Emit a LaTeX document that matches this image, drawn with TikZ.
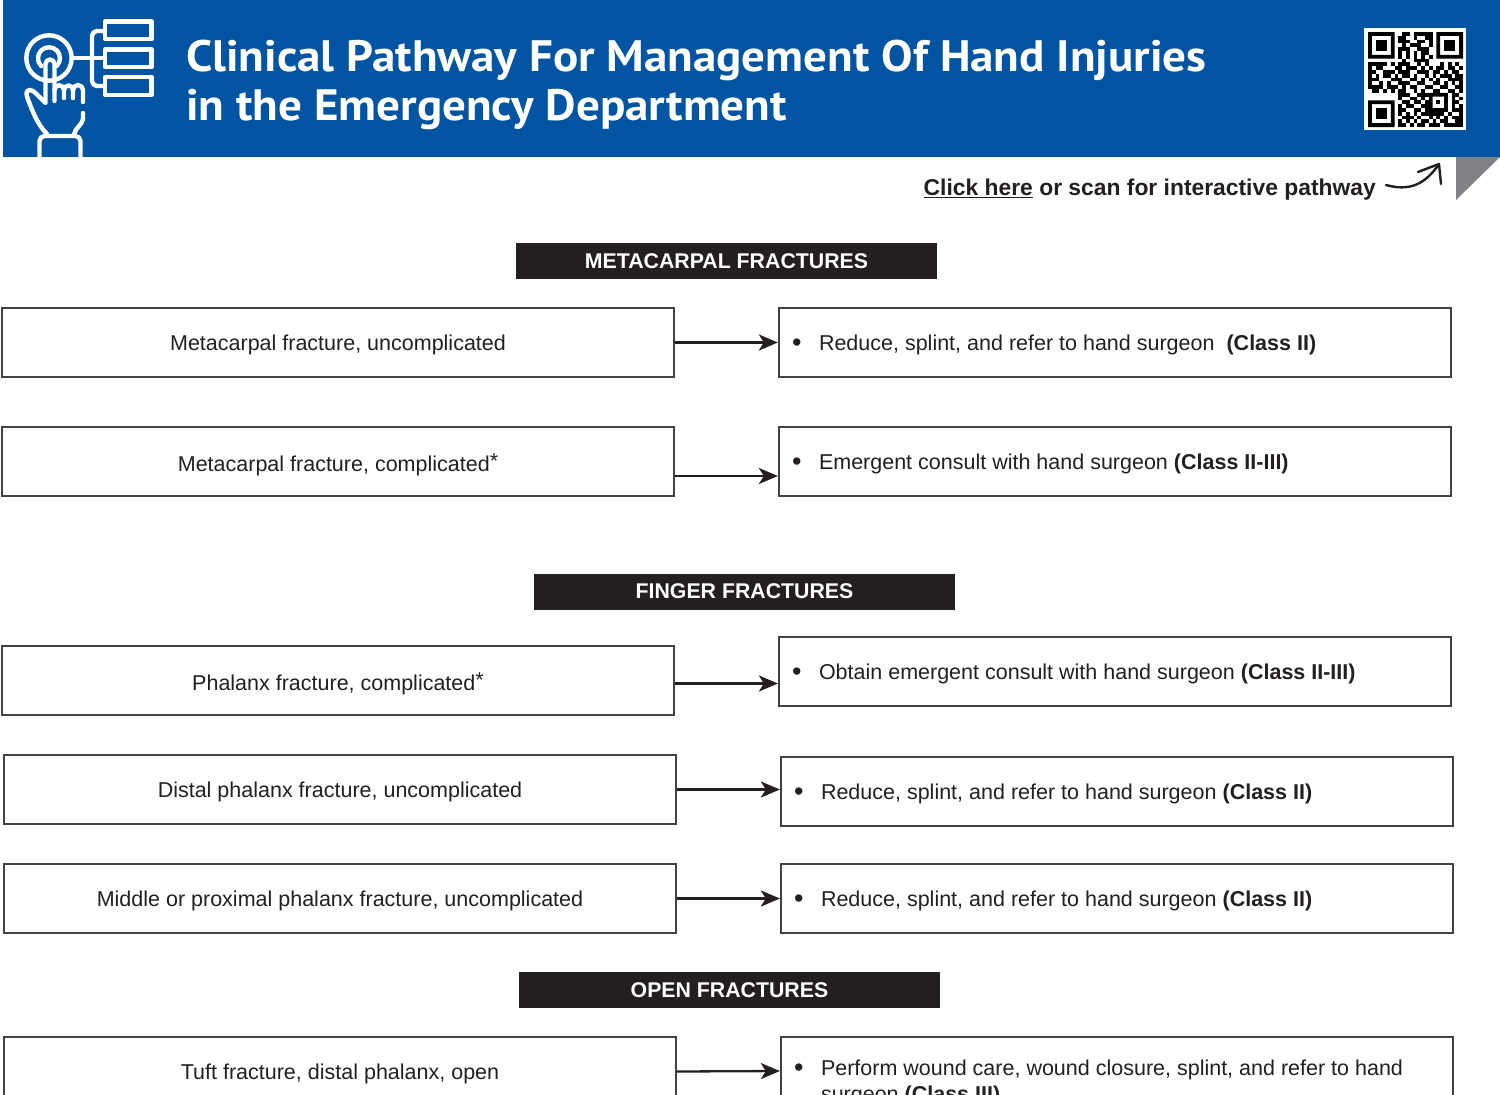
\documentclass[tikz,border=0pt]{standalone}
\usepackage{fontspec}
\setmainfont{Liberation Sans}
\newfontfamily\titlefont[FakeStretch=1.069]{PT Sans}
\usetikzlibrary{arrows.meta}
\definecolor{headblue}{RGB}{0,84,162}
\definecolor{inkblack}{RGB}{35,31,32}
\definecolor{foldgray}{RGB}{128,130,133}
\tikzset{
  leftbox/.style={draw=inkblack!85,line width=1.3pt,minimum width=672pt,minimum height=69pt,inner sep=0pt,text=inkblack,text height=16pt,text depth=0pt,font=\fontsize{21.5}{26}\selectfont},
  rightbox/.style={leftbox,align=flush left,text width=646pt,inner xsep=13pt},
  headbox/.style={fill=inkblack,minimum width=421pt,minimum height=36pt,inner sep=0pt,text=white,font=\bfseries\fontsize{21.3}{26}\selectfont},
  conn/.style={draw=inkblack,line width=2.3pt,-{Stealth[length=19pt,width=16pt,inset=5pt]},shorten >=0.5pt},
  iconline/.style={draw=white,line width=4.4pt,line cap=round,line join=round}
}
\newcommand{\bul}{\hangindent=27pt\hangafter=1\makebox[27pt][l]{\raisebox{-1.2pt}{\fontsize{27}{26}\selectfont\textbullet}}}
\newcommand{\stu}{\raisebox{3pt}{*}}
\begin{document}
\begin{tikzpicture}[x=1pt,y=-1pt]
\useasboundingbox (0,0) rectangle (1500,1095);
\clip (0,0) rectangle (1500,1095);
% banner
\fill [headblue] (3,0) rectangle (1500,156.5);
\fill [foldgray] (1456,157) -- (1500,157) -- (1456,200) -- cycle;
\node [anchor=west,text=white,align=flush left,inner sep=0pt,font=\titlefont\bfseries\fontsize{44}{49}\selectfont] (title) at (186,84.5) {Clinical Pathway For Management Of Hand Injuries\\in the Emergency Department};

% icon
\draw [iconline] (49,58) circle (22.7);
\draw [iconline] (41.2,66) arc (135:405:11);
\draw [iconline] (30,90) .. controls (34,90) and (38,96) .. (45.5,103) -- (45.5,64) arc (180:360:4.5) -- (54.5,101);
\draw [iconline] (30,90) .. controls (26,90) and (26,94) .. (27.5,98) .. controls (32,110) and (37,124) .. (47,134);
\draw [iconline] (54.5,90) arc (180:360:4.75) -- (64,98);
\draw [iconline] (64,90) arc (180:360:4.5) -- (73,98);
\draw [iconline] (73,90) arc (180:360:5) -- (83,102);
\draw [iconline] (83,113) -- (83,119) .. controls (82,125) and (76,127) .. (74,134);
\draw [iconline] (39.5,160) -- (39.5,141) arc (180:270:5) -- (75.5,136) arc (270:360:5) -- (80.5,160);
\draw [iconline,line cap=butt] (105.2,21.3) rectangle (151.5,39);
\draw [iconline,line cap=butt] (105.2,49.3) rectangle (151.5,67);
\draw [iconline,line cap=butt] (105.2,77) rectangle (151.5,94.7);
\draw [iconline,line cap=butt] (104,31) -- (97,31) arc (270:180:5) -- (92,81) arc (180:90:5) -- (104,86);
\draw [iconline,line cap=butt] (74,58) -- (104,58);

% qr code
\fill [white] (1364,28) rectangle (1466,130);
\begin{scope}[shift={(1368,32)},x=3.8pt,y=-3.8pt]
\foreach \qx/\qy in {0/0,18/0,0/18}{
  \fill [black,even odd rule] (\qx,\qy) rectangle +(7,7) (\qx+1,\qy+1) rectangle +(5,5);
  \fill [black] (\qx+2,\qy+2) rectangle +(3,3);
}
\fill [black,even odd rule] (16,16) rectangle +(5,5) (17,17) rectangle +(3,3);
\fill [black] (18,18) rectangle +(1,1);
\foreach \qr/\qcols in {
  0/{9,10,12,13,14,15,16},
  1/{8,9,12,15,16},
  2/{8,9,10,13,14,16},
  3/{9,11,12,13,16},
  4/{8,9,10,13,14,15},
  5/{8,10,12,14,15},
  6/{8,10,12,14,16},
  7/{9,12,13,14,15},
  8/{0,1,2,3,4,6,8,9,10,13,15,19,21,23},
  9/{0,2,3,7,8,10,11,12,14,16,18,19,21,22,24},
  10/{0,1,4,5,6,8,9,10,13,14,15,17,18,20,22,23},
  11/{0,2,4,5,7,9,10,12,15,17,19,20,21,23,24},
  12/{0,1,2,6,7,8,11,12,14,16,18,21,22,23,24},
  13/{0,3,5,8,9,10,13,14,17,18,20,22,24},
  14/{0,1,2,3,5,6,7,9,11,12,15,16,19,20,23,24},
  15/{1,2,4,6,8,9,12,14,17,18,21,22,24},
  16/{8,9,10,13,14,15,22,23},
  17/{8,11,12,14,22,24},
  18/{9,10,12,13,15,22,23},
  19/{8,10,11,14,15,22,24},
  20/{8,9,12,13,15,22,23,24},
  21/{8,10,12,14,15,16,17,18,19,21,24},
  22/{9,10,11,13,16,18,20,22,23,24},
  23/{8,10,12,14,15,17,19,20,23,24},
  24/{8,9,11,13,14,16,17,18,20,21,22,23,24}}{
  \foreach \qc in \qcols
    \fill [black] (\qc,\qr) rectangle +(1.02,1.02);
}
\end{scope}

% link line
\node [anchor=east,inner sep=0pt,text=inkblack,font=\bfseries\fontsize{22.85}{26}\selectfont] (linktext) at (1376,189.5) {\underline{Click here} or scan for interactive pathway};
\coordinate (curvestart) at (1386,185);
\coordinate (curveend) at (1439,164);
\coordinate (tipleft) at (1418,172);
\coordinate (tipright) at (1441,184);
\draw [inkblack,line width=2.4pt,line cap=round] (curvestart) .. controls (1408,191) and (1424,186) .. (curveend);
\draw [inkblack,line width=2.4pt,line cap=round,line join=round] (tipleft) -- (curveend) -- (tipright);

% section titles
\node [headbox] (metahead) at (726.5,261) {METACARPAL FRACTURES};
\node [headbox] (fingerhead) at (744.5,591.5) {FINGER FRACTURES};
\node [headbox] (openhead) at (729.5,990) {OPEN FRACTURES};

% boxes
\node [leftbox] (metaA) at (338,342.5) {Metacarpal fracture, uncomplicated};
\node [rightbox] (metaAr) at (1115,342.5) {\bul Reduce, splint, and refer to hand surgeon\ \ \textbf{(Class II)}};
\node [leftbox,text height=19pt] (metaB) at (338,461.5) {Metacarpal fracture, complicated\stu};
\node [rightbox] (metaBr) at (1115,461.5) {\bul Emergent consult with hand surgeon \textbf{(Class II-III)}};
\node [leftbox,text height=19pt] (fingA) at (338,680.5) {Phalanx fracture, complicated\stu};
\node [rightbox] (fingAr) at (1115,671.5) {\bul Obtain emergent consult with hand surgeon \textbf{(Class II-III)}};
\node [leftbox] (fingB) at (340,789.5) {Distal phalanx fracture, uncomplicated};
\node [rightbox] (fingBr) at (1117,791.5) {\bul Reduce, splint, and refer to hand surgeon \textbf{(Class II)}};
\node [leftbox] (fingC) at (340,898.5) {Middle or proximal phalanx fracture, uncomplicated};
\node [rightbox] (fingCr) at (1117,898.5) {\bul Reduce, splint, and refer to hand surgeon \textbf{(Class II)}};
\node [leftbox] (openA) at (340,1071.5) {Tuft fracture, distal phalanx, open};
\node [rightbox,minimum height=86pt,text depth=26pt] (openAr) at (1117,1080) {\bul Perform wound care, wound closure, splint, and refer to hand surgeon \textbf{(Class III)}\par};

% arrows
\draw [conn] (metaA.east) -- (metaAr.west);
\draw [conn] ([yshift=-14.5pt]metaB.east) -- ([yshift=-14.5pt]metaBr.west);
\draw [conn] ([yshift=-3pt]fingA.east) -- ([yshift=-12pt]fingAr.west);
\draw [conn] (fingB.east) -- ([yshift=2pt]fingBr.west);
\draw [conn] (fingC.east) -- (fingCr.west);
\draw [conn] (openA.east) -- ([yshift=9pt]openAr.west);
\end{tikzpicture}
\end{document}
